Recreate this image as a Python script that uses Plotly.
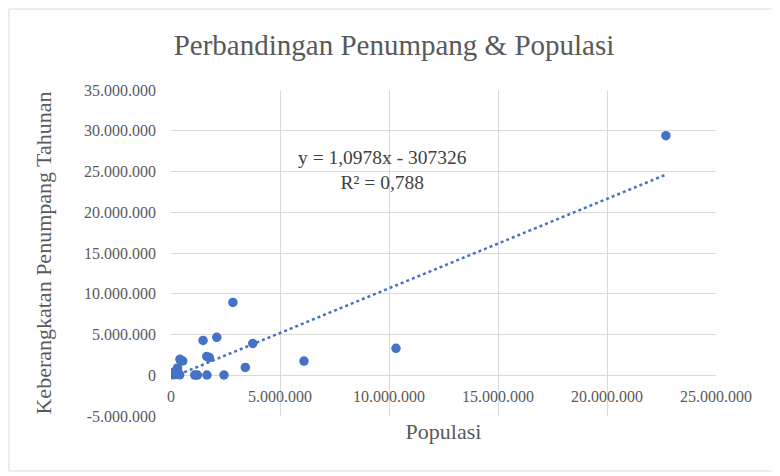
import plotly.graph_objects as go

# populasi vs keberangkatan penumpang tahunan
populasi = [22700000, 10320000, 6100000, 3410000, 3750000, 2840000, 2100000,
            1470000, 1640000, 1760000, 410000, 540000, 290000, 350000,
            180000, 1090000, 1210000, 1650000, 2430000, 100000, 250000,
            400000, 300000, 150000]
penumpang = [29400000, 3310000, 1740000, 960000, 3900000, 8930000, 4660000,
             4270000, 2300000, 2170000, 1960000, 1750000, 610000, 200000,
             120000, 20000, 20000, 30000, 30000, 50000, 300000,
             50000, 900000, 400000]

# trendline given on the chart
slope = 1.0978
intercept = -307326
r2_text = "R² = 0,788"
eq_text = "y = 1,0978x - 307326"

x_ticks = [0, 5000000, 10000000, 15000000, 20000000, 25000000]
y_ticks = [-5000000, 0, 5000000, 10000000, 15000000, 20000000, 25000000,
           30000000, 35000000]


def fmt(v):
    s = f"{abs(v):,}".replace(",", ".")
    return ("-" if v < 0 else "") + s


blue = '#4472C4'
grey = '#595959'
serif = 'Liberation Serif, Times New Roman, serif'

x0, x1 = min(populasi), max(populasi)

fig = go.Figure()
fig.add_trace(go.Scatter(x=[x0, x1], y=[slope*x0 + intercept, slope*x1 + intercept],
                         mode='lines', line=dict(color=blue, width=2.5, dash='dot'),
                         hoverinfo='skip'))
fig.add_trace(go.Scatter(x=populasi, y=penumpang, mode='markers',
                         marker=dict(color=blue, size=9.5)))

# page body has an 8px margin, so the figure is shrunk by that much
off = 8
W, H = 780 - off, 476 - off
ml, mr, mt, mb = 171 - off, 64, 90 - off, 60
pw, ph = W - ml - mr, H - mt - mb

fig.update_layout(
    width=W, height=H,
    margin=dict(l=ml, r=mr, t=mt, b=mb),
    paper_bgcolor='white', plot_bgcolor='white',
    showlegend=False,
    font=dict(family=serif, color=grey, size=16),
    title=dict(text='Perbandingan Penumpang & Populasi', x=0.5, xanchor='center',
               y=1 - (45 - off)/H, yanchor='middle',
               font=dict(family=serif, size=29, color=grey)),
    xaxis=dict(range=[0, 25000000], tickvals=x_ticks, showticklabels=False,
               showgrid=True, gridcolor='#d9d9d9', gridwidth=1,
               zeroline=False, showline=False, ticks='', automargin=False,
               title=dict(text='Populasi', font=dict(family=serif, size=22, color=grey),
                          standoff=7)),
    yaxis=dict(range=[-5000000, 35000000], tickvals=y_ticks, ticktext=[fmt(v) for v in y_ticks],
               showgrid=True, gridcolor='#d9d9d9', gridwidth=1,
               zeroline=True, zerolinecolor='#d9d9d9', zerolinewidth=1,
               showline=False, ticks='', ticklabelstandoff=14,
               automargin=False,
               title=dict(text='Keberangkatan Penumpang Tahunan',
                          font=dict(family=serif, size=22, color=grey), standoff=26)),
)

# x tick labels sit under the y=0 line, like the Excel horizontal axis
for v in x_ticks:
    fig.add_annotation(x=v, y=0, xref='x', yref='y', text=fmt(v), showarrow=False,
                       yanchor='top', yshift=-11, font=dict(family=serif, size=16, color=grey))

fig.add_annotation(x=(382 - off - ml)/pw, y=1 - (170 - mt - off)/ph, xref='paper', yref='paper',
                   xanchor='center', yanchor='middle',
                   text=eq_text + '<br>' + r2_text, showarrow=False,
                   font=dict(family=serif, size=19.5, color='#404040'), align='center')

# thin border round the whole chart
fig.add_shape(type='rect', xref='paper', yref='paper', layer='below',
              x0=(9 - off - ml)/pw, x1=(776 - off - ml)/pw,
              y0=-(471 - off - mt - ph)/ph, y1=1 + (mt + off - 9)/ph,
              line=dict(color='#d9d9d9', width=1))

fig.write_html("out.html")
